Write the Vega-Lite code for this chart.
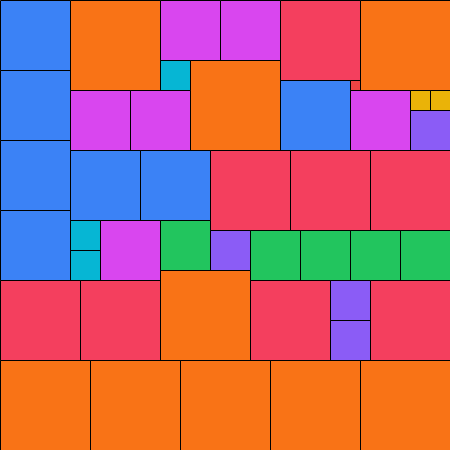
{
  "$schema": "https://vega.github.io/schema/vega-lite/v6.json",
  "width": 450,
  "height": 450,
  "padding": 0,
  "autosize": {"type": "none"},
  "background": "white",
  "config": {"view": {"stroke": null}},
  "data": {"values": [
    {"x0": 0, "x1": 70, "y0": 0, "y1": 70, "g": "blue"},
    {"x0": 0, "x1": 70, "y0": 70, "y1": 140, "g": "blue"},
    {"x0": 0, "x1": 70, "y0": 140, "y1": 210, "g": "blue"},
    {"x0": 0, "x1": 70, "y0": 210, "y1": 280, "g": "blue"},
    {"x0": 70, "x1": 160, "y0": 0, "y1": 90, "g": "orange"},
    {"x0": 160, "x1": 220, "y0": 0, "y1": 60, "g": "magenta"},
    {"x0": 220, "x1": 280, "y0": 0, "y1": 60, "g": "magenta"},
    {"x0": 160, "x1": 190, "y0": 60, "y1": 90, "g": "cyan"},
    {"x0": 190, "x1": 280, "y0": 60, "y1": 150, "g": "orange"},
    {"x0": 70, "x1": 130, "y0": 90, "y1": 150, "g": "magenta"},
    {"x0": 130, "x1": 190, "y0": 90, "y1": 150, "g": "magenta"},
    {"x0": 280, "x1": 360, "y0": 0, "y1": 80, "g": "rose"},
    {"x0": 350, "x1": 360, "y0": 80, "y1": 90, "g": "red"},
    {"x0": 360, "x1": 450, "y0": 0, "y1": 90, "g": "orange"},
    {"x0": 280, "x1": 350, "y0": 80, "y1": 150, "g": "blue"},
    {"x0": 350, "x1": 410, "y0": 90, "y1": 150, "g": "magenta"},
    {"x0": 410, "x1": 430, "y0": 90, "y1": 110, "g": "yellow"},
    {"x0": 430, "x1": 450, "y0": 90, "y1": 110, "g": "yellow"},
    {"x0": 410, "x1": 450, "y0": 110, "y1": 150, "g": "purple"},
    {"x0": 70, "x1": 140, "y0": 150, "y1": 220, "g": "blue"},
    {"x0": 140, "x1": 210, "y0": 150, "y1": 220, "g": "blue"},
    {"x0": 210, "x1": 290, "y0": 150, "y1": 230, "g": "rose"},
    {"x0": 290, "x1": 370, "y0": 150, "y1": 230, "g": "rose"},
    {"x0": 370, "x1": 450, "y0": 150, "y1": 230, "g": "rose"},
    {"x0": 70, "x1": 100, "y0": 220, "y1": 250, "g": "cyan"},
    {"x0": 70, "x1": 100, "y0": 250, "y1": 280, "g": "cyan"},
    {"x0": 100, "x1": 160, "y0": 220, "y1": 280, "g": "magenta"},
    {"x0": 160, "x1": 210, "y0": 220, "y1": 270, "g": "green"},
    {"x0": 210, "x1": 250, "y0": 230, "y1": 270, "g": "purple"},
    {"x0": 250, "x1": 300, "y0": 230, "y1": 280, "g": "green"},
    {"x0": 300, "x1": 350, "y0": 230, "y1": 280, "g": "green"},
    {"x0": 350, "x1": 400, "y0": 230, "y1": 280, "g": "green"},
    {"x0": 400, "x1": 450, "y0": 230, "y1": 280, "g": "green"},
    {"x0": 0, "x1": 80, "y0": 280, "y1": 360, "g": "rose"},
    {"x0": 80, "x1": 160, "y0": 280, "y1": 360, "g": "rose"},
    {"x0": 160, "x1": 250, "y0": 270, "y1": 360, "g": "orange"},
    {"x0": 250, "x1": 330, "y0": 280, "y1": 360, "g": "rose"},
    {"x0": 330, "x1": 370, "y0": 280, "y1": 320, "g": "purple"},
    {"x0": 330, "x1": 370, "y0": 320, "y1": 360, "g": "purple"},
    {"x0": 370, "x1": 450, "y0": 280, "y1": 360, "g": "rose"},
    {"x0": 0, "x1": 90, "y0": 360, "y1": 450, "g": "orange"},
    {"x0": 90, "x1": 180, "y0": 360, "y1": 450, "g": "orange"},
    {"x0": 180, "x1": 270, "y0": 360, "y1": 450, "g": "orange"},
    {"x0": 270, "x1": 360, "y0": 360, "y1": 450, "g": "orange"},
    {"x0": 360, "x1": 450, "y0": 360, "y1": 450, "g": "orange"}
  ]},
  "mark": {"type": "rect", "stroke": "black", "strokeWidth": 1, "xOffset": 0.5, "x2Offset": 0.5, "yOffset": 0.5, "y2Offset": 0.5},
  "encoding": {
    "x": {"field": "x0", "type": "quantitative", "scale": {"domain": [0, 450], "nice": false, "zero": false}, "axis": null},
    "x2": {"field": "x1"},
    "y": {"field": "y0", "type": "quantitative", "scale": {"domain": [0, 450], "nice": false, "zero": false, "reverse": true}, "axis": null},
    "y2": {"field": "y1"},
    "color": {"field": "g", "type": "nominal", "legend": null,
      "scale": {"domain": ["blue", "orange", "magenta", "cyan", "rose", "red", "yellow", "purple", "green"],
                "range": ["#3b82f6", "#f97316", "#d946ef", "#06b6d4", "#f43f5e", "#ef4444", "#eab308", "#8b5cf6", "#22c55e"]}}
  }
}
